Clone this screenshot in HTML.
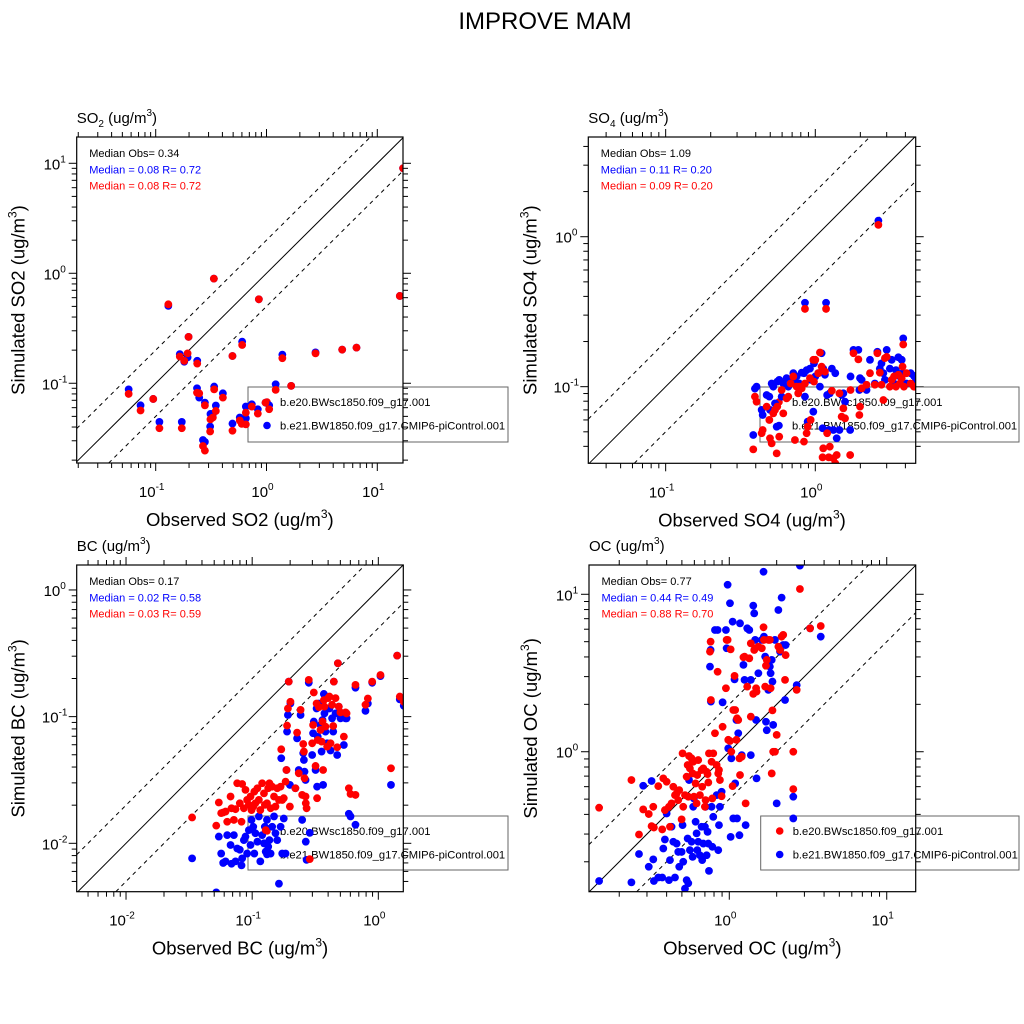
<!DOCTYPE html>
<html><head><meta charset="utf-8"><title>IMPROVE MAM</title>
<style>
html,body{margin:0;padding:0;background:#fff;width:1024px;height:1024px;overflow:hidden;}
svg{display:block;font-family:"Liberation Sans",Arial,sans-serif;}
</style></head>
<body>
<svg id="fig" width="1024" height="1024" viewBox="0 0 1024 1024">
<text x="545" y="29" font-size="24" text-anchor="middle">IMPROVE MAM</text>
</svg>
<script>
// ---------- SO2 panel data ----------
const so2Obs = [0.057,0.073,0.095,0.108,0.130,0.172,0.165,0.181,0.194,0.198,0.237,0.236,0.247,0.278,0.267,0.278,0.312,0.310,0.328,0.337,0.349,0.335,0.404,0.493,0.493,0.574,0.603,0.598,0.651,0.651,0.737,0.835,0.853,0.98,1.057,1.21,1.39,1.67,2.77,4.82,6.49,15.97,17.1];
const so2SimA = [0.088,0.063,0.072,0.0445,0.505,0.0445,0.184,0.157,0.172,0.264,0.160,0.090,0.074,0.0667,0.0305,0.0293,0.0526,0.0404,0.0526,0.0933,0.0627,0.894,0.081,0.043,0.177,0.0488,0.239,0.0464,0.048,0.0614,0.0644,0.058,0.580,0.0667,0.063,0.098,0.182,0.0946,0.191,0.202,0.211,0.622,9.02];
const so2SimB = [0.080,0.0565,0.072,0.039,0.522,0.039,0.175,0.160,0.187,0.264,0.151,0.082,0.081,0.063,0.0269,0.0244,0.047,0.0364,0.0488,0.088,0.056,0.894,0.074,0.037,0.177,0.0458,0.223,0.0427,0.0423,0.054,0.0614,0.053,0.580,0.0667,0.058,0.087,0.169,0.0946,0.187,0.202,0.211,0.622,9.02];
// ---------- SO4 panel data ----------
const so4Obs = [2.64,0.853,1.18,0.385,0.395,0.405,0.438,0.445,0.473,0.493,0.498,0.511,0.524,0.538,0.552,0.557,0.574,0.596,0.611,0.643,0.660,0.684,0.713,0.731,0.750,0.769,0.782,0.811,0.840,0.853,0.875,0.889,0.921,0.931,0.970,0.980,1.0,1.047,1.074,1.102,1.119,1.13,1.16,1.20,1.23,1.25,1.29,1.32,1.36,1.39,1.45,1.50,1.54,1.58,1.71,1.72,1.80,1.94,1.97,1.99,2.04,2.20,2.32,2.50,2.60,2.70,2.77,2.85,2.92,3.00,3.15,3.24,3.36,3.46,3.59,3.68,3.78,3.83,3.87,3.91,4.07,4.34,4.56,4.71];
const so4SimA = [1.28,0.363,0.363,0.0476,0.097,0.100,0.070,0.0647,0.088,0.0858,0.070,0.105,0.100,0.0774,0.0541,0.108,0.111,0.0858,0.105,0.114,0.100,0.111,0.123,0.108,0.117,0.100,0.105,0.124,0.123,0.0858,0.129,0.0585,0.132,0.111,0.0681,0.143,0.117,0.123,0.100,0.167,0.0528,0.132,0.120,0.088,0.0514,0.0903,0.132,0.0514,0.123,0.0453,0.0514,0.088,0.0903,0.0794,0.0514,0.117,0.176,0.176,0.095,0.114,0.111,0.095,0.151,0.105,0.171,0.132,0.143,0.123,0.111,0.176,0.132,0.151,0.105,0.129,0.157,0.117,0.151,0.123,0.210,0.105,0.105,0.123,0.118,0.111];
const so4SimB = [1.20,0.330,0.330,0.0382,0.0858,0.0794,0.0489,0.0514,0.0736,0.060,0.0453,0.0419,0.0664,0.070,0.0359,0.0736,0.0464,0.095,0.0664,0.0836,0.0858,0.105,0.117,0.0441,0.100,0.0903,0.100,0.0975,0.043,0.105,0.0489,0.0541,0.114,0.060,0.151,0.108,0.151,0.123,0.169,0.136,0.0338,0.0388,0.126,0.0489,0.0338,0.0398,0.0939,0.0333,0.0308,0.035,0.0903,0.0631,0.0717,0.0615,0.035,0.095,0.167,0.152,0.0647,0.0736,0.0975,0.103,0.123,0.103,0.167,0.124,0.103,0.0815,0.155,0.158,0.100,0.111,0.117,0.100,0.120,0.105,0.114,0.136,0.191,0.100,0.123,0.105,0.100,0.100];
// ---------- BC panel data ----------
const bcObs = [0.0334,0.0519,0.0544,0.0568,0.0589,0.0615,0.0634,0.0674,0.0686,0.0716,0.0738,0.0761,0.0798,0.0823,0.0833,0.0859,0.0885,0.0912,0.0941,0.097,0.0988,0.102,0.104,0.106,0.110,0.113,0.116,0.120,0.124,0.126,0.128,0.131,0.134,0.137,0.140,0.144,0.149,0.153,0.158,0.163,0.168,0.170,0.173,0.178,0.184,0.187,0.189,0.192,0.195,0.199,0.201,0.220,0.227,0.234,0.242,0.249,0.254,0.257,0.260,0.265,0.266,0.270,0.281,0.286,0.299,0.304,0.308,0.318,0.324,0.327,0.331,0.338,0.348,0.355,0.361,0.365,0.370,0.374,0.381,0.393,0.400,0.410,0.418,0.430,0.439,0.444,0.458,0.472,0.478,0.486,0.501,0.533,0.550,0.560,0.584,0.602,0.659,0.659,0.791,0.826,0.894,1.04,1.26,1.41,1.48,1.59];
const bcSimA = [0.0076,0.0041,0.0113,0.0083,0.007,0.0072,0.0116,0.0097,0.0069,0.0116,0.0072,0.0091,0.0089,0.0067,0.0076,0.0106,0.0113,0.0083,0.0127,0.0097,0.0153,0.0135,0.0083,0.012,0.0103,0.0163,0.0072,0.0116,0.01,0.0135,0.0086,0.0153,0.0094,0.0106,0.0083,0.0135,0.0163,0.012,0.0106,0.0048,0.0135,0.0469,0.0083,0.0157,0.0083,0.0379,0.0762,0.103,0.189,0.0289,0.127,0.0272,0.0674,0.0379,0.103,0.0153,0.0514,0.0455,0.0368,0.0316,0.0103,0.0074,0.185,0.0121,0.0498,0.0739,0.0914,0.0379,0.116,0.028,0.0695,0.127,0.0859,0.053,0.094,0.0289,0.151,0.106,0.0762,0.0616,0.116,0.116,0.054,0.097,0.0762,0.189,0.106,0.0498,0.264,0.120,0.097,0.0597,0.097,0.097,0.0171,0.0163,0.169,0.014,0.111,0.127,0.185,0.209,0.0289,0.303,0.137,0.122];
const bcSimB = [0.016,0.0138,0.021,0.0173,0.0175,0.0178,0.0148,0.0234,0.0189,0.0153,0.0186,0.0298,0.0207,0.0148,0.0294,0.0189,0.0264,0.022,0.0201,0.0234,0.0183,0.0195,0.0256,0.0207,0.0272,0.022,0.0183,0.0298,0.0248,0.0201,0.0127,0.0207,0.0272,0.0298,0.0189,0.028,0.0234,0.0195,0.0272,0.022,0.028,0.0552,0.022,0.0227,0.0307,0.0379,0.085,0.116,0.189,0.0195,0.131,0.0272,0.0748,0.0357,0.113,0.0241,0.0608,0.053,0.0326,0.0234,0.0207,0.0189,0.195,0.0075,0.0616,0.0859,0.155,0.0408,0.127,0.0227,0.0654,0.119,0.0785,0.0635,0.0914,0.0379,0.135,0.120,0.0834,0.058,0.140,0.144,0.0616,0.124,0.0844,0.189,0.140,0.0573,0.264,0.120,0.108,0.0695,0.108,0.106,0.0272,0.0245,0.178,0.0241,0.124,0.139,0.189,0.213,0.0391,0.303,0.144,0.131];
// ---------- OC panel data ----------
const ocObs = [0.149,0.239,0.267,0.284,0.308,0.321,0.329,0.332,0.354,0.375,0.381,0.390,0.400,0.414,0.420,0.430,0.441,0.452,0.463,0.474,0.481,0.498,0.505,0.510,0.523,0.536,0.544,0.549,0.555,0.562,0.576,0.585,0.590,0.596,0.611,0.620,0.626,0.635,0.651,0.667,0.673,0.684,0.700,0.707,0.718,0.728,0.736,0.743,0.754,0.761,0.764,0.772,0.780,0.791,0.811,0.831,0.843,0.851,0.860,0.872,0.894,0.907,0.952,0.962,0.976,0.985,1.01,1.02,1.03,1.05,1.06,1.08,1.09,1.11,1.12,1.14,1.16,1.17,1.20,1.23,1.25,1.27,1.30,1.34,1.37,1.37,1.42,1.44,1.46,1.48,1.49,1.53,1.61,1.65,1.66,1.69,1.71,1.73,1.77,1.81,1.83,1.86,1.88,1.90,1.95,2.00,2.05,2.10,2.15,2.20,2.26,2.28,2.55,2.55,2.68,2.81,3.26,3.81];
const ocSimA = [0.151,0.148,0.224,0.608,0.186,0.652,0.207,0.151,0.159,0.159,0.243,0.277,0.405,0.153,0.205,0.334,0.268,0.159,0.261,0.231,0.186,0.231,0.342,0.200,0.135,0.153,0.281,0.146,0.661,0.237,0.268,0.215,0.447,0.505,0.359,0.303,0.237,0.268,0.220,0.334,0.205,0.261,0.334,0.447,0.220,0.310,0.261,0.175,3.47,4.43,2.08,0.447,0.249,0.386,5.93,0.530,5.93,0.237,0.342,0.447,0.557,2.06,5.93,4.54,11.5,1.05,8.77,0.288,0.908,6.70,0.377,2.88,0.629,1.59,0.377,1.31,0.295,6.54,0.952,3.56,2.86,0.342,6.08,5.93,0.952,2.86,8.47,7.57,5.13,1.59,0.677,3.15,5.13,13.9,5.38,4.02,1.55,1.37,2.47,3.47,3.15,3.83,2.79,1.48,5.13,0.470,7.95,4.32,9.52,4.76,2.13,4.76,0.377,0.518,2.65,15.2,6.08,5.38];
const ocSimB = [0.441,0.661,0.298,0.430,0.402,0.337,0.447,0.330,0.605,0.321,0.677,0.426,0.645,0.447,0.334,0.470,0.599,0.530,0.543,0.493,0.570,0.372,0.976,0.447,0.530,0.694,0.823,0.518,0.939,0.784,0.908,0.728,0.864,0.518,0.629,0.470,0.711,0.885,0.530,0.765,0.599,0.784,0.447,0.493,0.746,0.721,0.638,0.976,4.32,5.00,2.13,0.864,0.505,0.976,1.31,0.823,3.22,0.728,0.765,0.661,0.522,1.44,2.53,5.13,5.13,1.19,1.17,4.47,1.0,0.605,1.84,3.03,1.84,1.19,1.63,1.59,0.908,0.711,0.930,3.98,4.02,0.470,2.59,3.92,1.67,4.88,2.33,4.43,4.54,2.53,2.41,4.65,4.54,6.17,5.13,2.59,3.52,3.83,5.13,5.13,2.53,0.728,1.83,1.0,1.0,1.28,4.65,4.43,5.38,5.52,2.86,4.11,0.579,1.0,2.47,10.8,6.08,6.29];
// ---------- labels ----------
const legendLabels = ["b.e20.BWsc1850.f09_g17.001","b.e21.BW1850.f09_g17.CMIP6-piControl.001"];

const NS = "http://www.w3.org/2000/svg";
const svg = document.getElementById('fig');
function mk(tag, attrs, parent){
  const e = document.createElementNS(NS, tag);
  for (const k in attrs) e.setAttribute(k, attrs[k]);
  (parent||svg).appendChild(e);
  return e;
}

const panels = [
  {id:'so2', sp:'SO', sub:'2', xl:'Observed SO2 (ug/m', yl:'Simulated SO2 (ug/m', obs:so2Obs, a:so2SimA, b:so2SimB,
   x0:76.7, x1:403, y0:137, y1:463, lx:[-1.713,1.232], ly:[-1.725,1.239],
   stats:['Median Obs= 0.34','Median = 0.08 R= 0.72','Median = 0.08 R= 0.72'], leg:[248,387,508,442]},
  {id:'so4', sp:'SO', sub:'4', xl:'Observed SO4 (ug/m', yl:'Simulated SO4 (ug/m', obs:so4Obs, a:so4SimA, b:so4SimB,
   x0:588.3, x1:915.7, y0:137, y1:463.3, lx:[-1.517,0.671], ly:[-1.511,0.665],
   stats:['Median Obs= 1.09','Median = 0.11 R= 0.20','Median = 0.09 R= 0.20'], leg:[760,387,1019,442]},
  {id:'bc', sp:'BC', sub:'', xl:'Observed BC (ug/m', yl:'Simulated BC (ug/m', obs:bcObs, a:bcSimA, b:bcSimB,
   x0:76.7, x1:403.3, y0:565, y1:891.7, lx:[-2.391,0.198], ly:[-2.382,0.197],
   stats:['Median Obs= 0.17','Median = 0.02 R= 0.58','Median = 0.03 R= 0.59'], leg:[248,816,508,870]},
  {id:'oc', sp:'OC', sub:'', xl:'Observed OC (ug/m', yl:'Simulated OC (ug/m', obs:ocObs, a:ocSimA, b:ocSimB,
   x0:589, x1:915.7, y0:565, y1:891.7, lx:[-0.891,1.184], ly:[-0.889,1.186],
   stats:['Median Obs= 0.77','Median = 0.44 R= 0.49','Median = 0.88 R= 0.70'], leg:[760.7,816,1019,870]}
];

panels.forEach((p, pi) => {
  const g = mk('g', {});
  
  
  const X = v => p.x0 + (Math.log10(v) - p.lx[0]) / (p.lx[1]-p.lx[0]) * (p.x1-p.x0);
  const Y = v => p.y1 - (Math.log10(v) - p.ly[0]) / (p.ly[1]-p.ly[0]) * (p.y1-p.y0);
  const XL = l => p.x0 + (l - p.lx[0]) / (p.lx[1]-p.lx[0]) * (p.x1-p.x0);
  const YL = l => p.y1 - (l - p.ly[0]) / (p.ly[1]-p.ly[0]) * (p.y1-p.y0);

  const clipId = 'clip' + pi;
  const cp = mk('clipPath', {id: clipId}, g);
  mk('rect', {x:p.x0, y:p.y0, width:p.x1-p.x0, height:p.y1-p.y0}, cp);

  [[0,'none'],[Math.log10(2),'4,4'],[-Math.log10(2),'4,4']].forEach((o,i) => {
    const a = Math.max(p.lx[0], p.ly[0]-o[0]);
    const b = Math.min(p.lx[1], p.ly[1]-o[0]);
    const l = mk('line', {x1:XL(a), y1:YL(a+o[0]), x2:XL(b), y2:YL(b+o[0]), stroke:'#000', 'stroke-width':1, 'stroke-dasharray':o[1]}, g);
    
    
  });

  const tk = mk('g', {stroke:'#000', 'stroke-width':1}, g);
  for (let d = Math.floor(p.lx[0]); d <= Math.ceil(p.lx[1]); d++) {
    for (let m = 1; m <= 9; m++) {
      const l = d + Math.log10(m);
      if (l < p.lx[0] - 1e-6 || l > p.lx[1] + 1e-6) continue;
      const x = XL(l), len = m===1 ? 8 : 5;
      mk('line', {x1:x, y1:p.y1, x2:x, y2:p.y1+len}, tk);
      mk('line', {x1:x, y1:p.y0, x2:x, y2:p.y0-len}, tk);
      if (m===1) {
        const t = mk('text', {x:x-4, y:p.y1+34, 'font-size':15, 'text-anchor':'middle', stroke:'none', fill:'#000'}, g);
        
        
        t.textContent = '10';
        const s = mk('tspan', {'font-size':10, dy:-7}, t); s.textContent = String(d);
      }
    }
  }
  for (let d = Math.floor(p.ly[0]); d <= Math.ceil(p.ly[1]); d++) {
    for (let m = 1; m <= 9; m++) {
      const l = d + Math.log10(m);
      if (l < p.ly[0] - 1e-6 || l > p.ly[1] + 1e-6) continue;
      const y = YL(l), len = m===1 ? 8 : 5;
      mk('line', {x1:p.x0, y1:y, x2:p.x0-len, y2:y}, tk);
      mk('line', {x1:p.x1, y1:y, x2:p.x1+len, y2:y}, tk);
      if (m===1) {
        const t = mk('text', {x:p.x0-22, y:y+6, 'font-size':15, 'text-anchor':'middle', stroke:'none', fill:'#000'}, g);
        
        
        t.textContent = '10';
        const s = mk('tspan', {'font-size':10, dy:-7}, t); s.textContent = String(d);
      }
    }
  }

  const L = p.leg;
  const lb = mk('rect', {x:L[0], y:L[1], width:L[2]-L[0], height:L[3]-L[1], fill:'none', stroke:'#666', 'stroke-width':1}, g);
  
  
  legendLabels.forEach((lab, i) => {
    const cy = L[1] + 15 + i*23.5;
    const mkr = mk('circle', {cx:L[0]+19, cy:cy, r:3.8, fill: i===0 ? '#ff0000' : '#0000ff'}, g);
    
    
    const t = mk('text', {x:L[0]+32, y:cy+4, 'font-size':11.2, fill:'#000'}, g);
    
    
    t.textContent = lab;
  });

  const pts = mk('g', {'clip-path':'url(#'+clipId+')'}, g);
  p.obs.forEach((o, i) => {
    const c = mk('circle', {cx:X(o), cy:Y(p.a[i]), r:3.9, fill:'#0000ff'}, pts);
    
    
  });
  p.obs.forEach((o, i) => {
    const c = mk('circle', {cx:X(o), cy:Y(p.b[i]), r:3.9, fill:'#ff0000'}, pts);
    
    
  });

  const fr = mk('rect', {x:p.x0, y:p.y0, width:p.x1-p.x0, height:p.y1-p.y0, fill:'none', stroke:'#000', 'stroke-width':1.2}, g);
  
  

  const cols = ['#000','#0000ff','#ff0000'];
  p.stats.forEach((s, i) => {
    const t = mk('text', {x:p.x0+12.5, y:p.y0+20 + i*16.3, 'font-size':11, fill:cols[i]}, g);
    
    
    t.textContent = s;
  });

  const pt = mk('text', {x:p.x0, y:p.y0-14, 'font-size':15, fill:'#000'}, g);
  
  
  pt.textContent = p.sp;
  if (p.sub) { const s = mk('tspan', {'font-size':10, dy:4}, pt); s.textContent = p.sub; const s2 = mk('tspan', {dy:-4}, pt); s2.textContent = ' (ug/m'; }
  else { const s2 = mk('tspan', {}, pt); s2.textContent = ' (ug/m'; }
  const s3 = mk('tspan', {'font-size':10, dy:-7}, pt); s3.textContent = '3';
  const s4 = mk('tspan', {dy:7}, pt); s4.textContent = ')';

  const xt = mk('text', {x:(p.x0+p.x1)/2, y:p.y1+63, 'font-size':18.5, 'text-anchor':'middle', fill:'#000'}, g);
  
  
  xt.textContent = p.xl;
  const a1 = mk('tspan', {'font-size':12, dy:-8}, xt); a1.textContent = '3';
  const a2 = mk('tspan', {dy:8}, xt); a2.textContent = ')';

  const cy = (p.y0+p.y1)/2, cx = p.x0 - 52;
  const yt = mk('text', {x:cx, y:cy, 'font-size':18.5, 'text-anchor':'middle', fill:'#000', transform:'rotate(-90 '+cx+' '+cy+')'}, g);
  
  
  yt.textContent = p.yl;
  const b1 = mk('tspan', {'font-size':12, dy:-8}, yt); b1.textContent = '3';
  const b2 = mk('tspan', {dy:8}, yt); b2.textContent = ')';
});
</script>
</body></html>
